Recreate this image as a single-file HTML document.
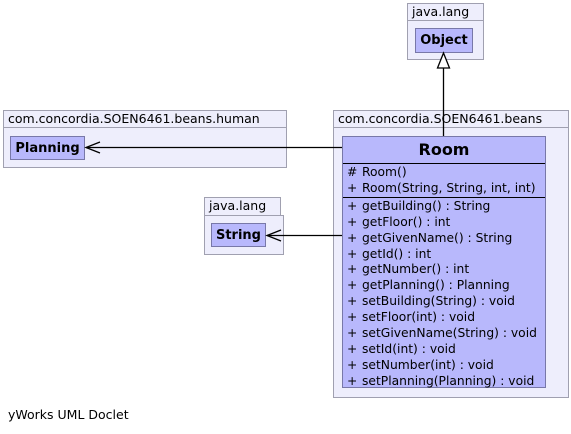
<!DOCTYPE html>
<html><head><style>
body{margin:0;width:571px;height:434px;background:#fff;position:relative;font-family:"DejaVu Sans","Liberation Sans",sans-serif;font-size:12px;color:#000;overflow:hidden}
.a{position:absolute;box-sizing:border-box}
.pk{background:#eeeefc;border:1px solid #a0a0b0}
.cl{background:#b8b8fc;border:1px solid #7878a8}
.t{line-height:16px;padding-left:4px;white-space:nowrap;font-size:12.5px}
.b{font-weight:bold;font-size:13px;text-align:center;line-height:24px}
.r{position:absolute;left:4px;white-space:nowrap;line-height:16px;font-size:12.3px}
.r span{display:inline-block;width:15px}
</style></head><body>
<div class="a pk t" style="left:407px;top:3px;width:77px;height:18px">java.lang</div>
<div class="a pk" style="left:407px;top:20px;width:77px;height:40px"></div>
<div class="a cl b" style="left:415px;top:28px;width:58px;height:25px">Object</div>

<div class="a pk t" style="left:3px;top:110px;width:284px;height:18px">com.concordia.SOEN6461.beans.human</div>
<div class="a pk" style="left:3px;top:127px;width:284px;height:41px"></div>
<div class="a cl b" style="left:10px;top:136px;width:75px;height:24px">Planning</div>

<div class="a pk t" style="left:204px;top:197px;width:77px;height:19px">java.lang</div>
<div class="a pk" style="left:204px;top:215px;width:80px;height:40px"></div>
<div class="a cl b" style="left:211px;top:223px;width:55px;height:24px">String</div>

<div class="a pk t" style="left:333px;top:110px;width:236px;height:18px">com.concordia.SOEN6461.beans</div>
<div class="a pk" style="left:333px;top:127px;width:236px;height:271px"></div>
<div class="a cl" style="left:342px;top:136px;width:204px;height:252px">
<div style="text-align:center;font-weight:bold;font-size:16px;line-height:26px;height:26px;border-bottom:1px solid #000">Room</div>
<div style="position:relative;height:33px;border-bottom:1px solid #000">
<div class="r" style="top:0"><span>#</span>Room()</div>
<div class="r" style="top:16px"><span>+</span>Room(String, String, int, int)</div>
</div>
<div style="position:relative">
<div class="r" style="top:0"><span>+</span>getBuilding() : String</div>
<div class="r" style="top:16px"><span>+</span>getFloor() : int</div>
<div class="r" style="top:32px"><span>+</span>getGivenName() : String</div>
<div class="r" style="top:48px"><span>+</span>getId() : int</div>
<div class="r" style="top:63px"><span>+</span>getNumber() : int</div>
<div class="r" style="top:79px"><span>+</span>getPlanning() : Planning</div>
<div class="r" style="top:95px"><span>+</span>setBuilding(String) : void</div>
<div class="r" style="top:111px"><span>+</span>setFloor(int) : void</div>
<div class="r" style="top:127px"><span>+</span>setGivenName(String) : void</div>
<div class="r" style="top:143px"><span>+</span>setId(int) : void</div>
<div class="r" style="top:159px"><span>+</span>setNumber(int) : void</div>
<div class="r" style="top:175px"><span>+</span>setPlanning(Planning) : void</div>
</div>
</div>

<svg class="a" style="left:0;top:0" width="571" height="434">
<g stroke="#000" stroke-width="1.3" fill="none">
<line x1="443.5" y1="136" x2="443.5" y2="68"/>
<polygon points="443.5,53 437.5,68 449.5,68" fill="#fff"/>
<line x1="342" y1="147.5" x2="86" y2="147.5"/>
<polyline points="100,142 86,147.5 100,153"/>
<line x1="342" y1="235.5" x2="267" y2="235.5"/>
<polyline points="281,230 267,235.5 281,241"/>
</g>
</svg>
<div class="a" style="left:8px;top:407px;font-size:12.5px">yWorks UML Doclet</div>
</body></html>
